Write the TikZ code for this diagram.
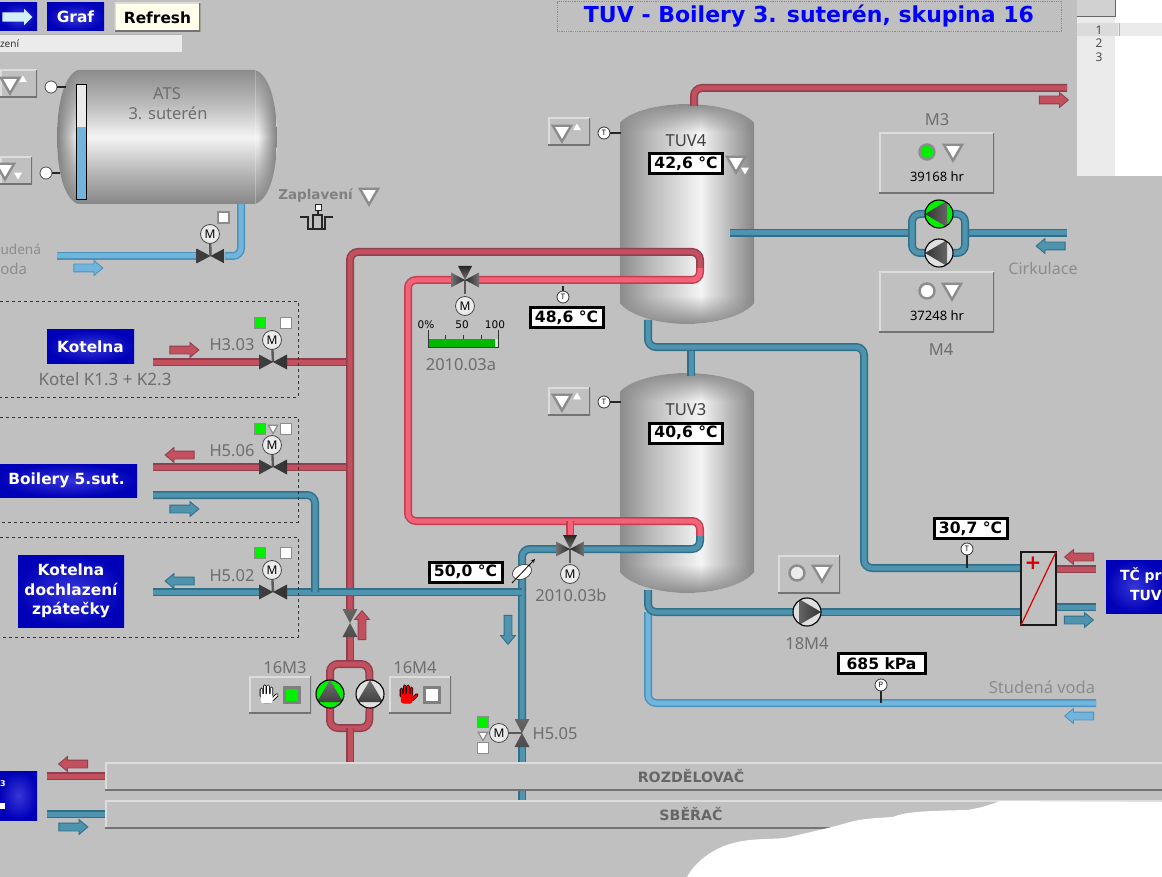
\documentclass[tikz,border=0pt]{standalone}
\usepackage{fontspec}
\setmainfont{Noto Sans}
\newfontfamily\verdfont{DejaVu Sans}
\usetikzlibrary{shapes.geometric,shapes.arrows,fadings}
\definecolor{bggrey}{HTML}{C0C0C0}
\definecolor{txtgrey}{HTML}{6E6E6E}
\definecolor{txtpale}{HTML}{8C8C8C}
\definecolor{redfill}{HTML}{C2505F}
\definecolor{rededge}{HTML}{8E3F50}
\definecolor{hotfill}{HTML}{F4627A}
\definecolor{hotedge}{HTML}{C23F50}
\definecolor{bluefill}{HTML}{4F93AE}
\definecolor{blueedge}{HTML}{2F6F88}
\definecolor{lightfill}{HTML}{72B4DC}
\definecolor{lightedge}{HTML}{4A94BC}
\definecolor{tkdark}{HTML}{8C8C8C}
\definecolor{tkmid}{HTML}{BCBCBC}
\definecolor{tklight}{HTML}{F4F4F4}
\definecolor{tkend}{HTML}{868686}
\definecolor{lampgreen}{HTML}{00F000}
\pgfdeclarelayer{bg}
\pgfdeclarelayer{pipes}
\pgfsetlayers{bg,pipes,main}
\pgfdeclarehorizontalshading{tuvshade}{100bp}{color(0bp)=(tkdark); color(25bp)=(tkdark); color(37bp)=(tkmid); color(55bp)=(tklight); color(75bp)=(tkend); color(100bp)=(tkend)}
\pgfdeclareverticalshading{atsshade}{100bp}{color(0bp)=(tkend); color(25bp)=(tkend); color(38bp)=(tkmid); color(50bp)=(tklight); color(62bp)=(tkmid); color(75bp)=(tkdark); color(100bp)=(tkdark)}
\tikzfading[name=fadeoutdown,top color=transparent!0,bottom color=transparent!100]
\tikzfading[name=fadeoutup,bottom color=transparent!0,top color=transparent!100]
\tikzfading[name=fadeoutright,left color=transparent!0,right color=transparent!100]
\tikzfading[name=fadeoutleft,right color=transparent!0,left color=transparent!100]
\newcommand{\tuvpath}{(620,123) .. controls (630,111) and (660,104) .. (687,104) .. controls (714,104) and (744,111) .. (754,123) -- (754,303) .. controls (744,316) and (714,324) .. (687,324) .. controls (660,324) and (630,316) .. (620,303) -- cycle}
\newcommand{\atspath}{(78,70) -- (255,70) .. controls (270,75) and (277,105) .. (277,137) .. controls (277,170) and (270,199) .. (255,204) -- (78,204) .. controls (64,199) and (57,170) .. (57,137) .. controls (57,105) and (64,75) .. (78,70) -- cycle}
\tikzset{
  basenode/.style={inner sep=0pt,outer sep=0pt},
  lbl/.style={basenode,text=txtgrey,font=\fontsize{16.5}{18}\selectfont,align=center,yshift=-.8pt},
  palelbl/.style={lbl,text=txtpale},
  pipered/.style={line width=1.5pt,draw=rededge,double=redfill,double distance=5pt,rounded corners=8pt},
  pipehot/.style={line width=1.5pt,draw=hotedge,double=hotfill,double distance=5pt,rounded corners=8pt},
  pipeblue/.style={line width=1.5pt,draw=blueedge,double=bluefill,double distance=5pt,rounded corners=8pt},
  pipelight/.style={line width=1.5pt,draw=lightedge,double=lightfill,double distance=5pt,rounded corners=8pt},
  stem/.style={line width=2.4pt,draw=black!65},
  wire/.style={line width=1.2pt,draw=black!85},
  panel/.style 2 args={basenode,rectangle,minimum width=#1,minimum height=#2,fill=bggrey,
    path picture={
      \draw[line width=3pt,white!45!bggrey] (path picture bounding box.south west) -- (path picture bounding box.north west) -- (path picture bounding box.north east);
      \draw[line width=3pt,black!55] (path picture bounding box.south west) -- (path picture bounding box.south east) -- (path picture bounding box.north east);}},
  bluebtn/.style 2 args={basenode,rectangle,minimum width=#1,minimum height=#2,inner color=blue!75!white!85!black,outer color=blue!72!black,text=white,align=center,
    font=\verdfont\bfseries\fontsize{15.4}{20}\selectfont},
  valuebox/.style={basenode,rectangle,draw=black,line width=3pt,fill=white,minimum width=#1,minimum height=20,
    font=\verdfont\bfseries\fontsize{15.6}{17}\selectfont},
  motor/.style={basenode,circle,minimum size=19,draw=black!70,line width=.8pt,fill=black!8,font=\fontsize{12}{12}\selectfont},
  sensor/.style={basenode,circle,minimum size=12,draw=black!80,line width=.8pt,fill=white,font=\fontsize{7.5}{8}\selectfont},
  ball/.style={basenode,circle,minimum size=12,draw=black!70,line width=.8pt,fill=white},
  lamp/.style={basenode,rectangle,minimum size=11,draw=black!45,line width=1.6pt,fill=#1},
  biglamp/.style={basenode,rectangle,minimum size=15,draw=black!50,line width=3pt,fill=#1},
  roundlamp/.style={basenode,circle,minimum size=15,draw=black!45,line width=2.4pt,fill=#1},
  alarmtri/.style={basenode,regular polygon,regular polygon sides=3,shape border rotate=180,minimum size=21,draw=black!45,line width=2.4pt,fill=white},
  alarmmini/.style={basenode,regular polygon,regular polygon sides=3,shape border rotate=180,minimum size=11,draw=black!45,line width=1.2pt,fill=white},
  markup/.style={basenode,regular polygon,regular polygon sides=3,minimum size=9,fill=white},
  markdn/.style={basenode,regular polygon,regular polygon sides=3,shape border rotate=180,minimum size=9,fill=white},
  flowarrow/.style n args={3}{outer sep=0pt,inner xsep=0pt,inner ysep=3.5pt,single arrow,minimum height=29,single arrow head extend=3.5pt,single arrow tip angle=80,
    shape border rotate=#1,fill=#2,draw=#3,line width=.9pt},
  flowarrowv/.style n args={3}{flowarrow={#1}{#2}{#3},inner xsep=3.5pt,inner ysep=0pt},
  valveh/.style={basenode,rectangle,minimum width=28,minimum height=15,path picture={
      \shade[left color=black!75,middle color=black!60,right color=black!80] (path picture bounding box.north west) -- (path picture bounding box.south east) -- (path picture bounding box.north east) -- (path picture bounding box.south west) -- cycle;}},
  valvev/.style={basenode,rectangle,minimum width=15,minimum height=28,path picture={
      \shade[top color=black!60,middle color=black!80,bottom color=black!70] (path picture bounding box.north west) -- (path picture bounding box.south east) -- (path picture bounding box.south west) -- (path picture bounding box.north east) -- cycle;}},
  valvethree/.style={basenode,rectangle,minimum size=28,path picture={
      \draw[stem] (path picture bounding box.center) -- (path picture bounding box.south);
      \shade[top color=black!85,bottom color=black!55] (path picture bounding box.north west) ++(7,0) -- ++(14,0) -- (path picture bounding box.center) -- cycle;
      \shade[left color=black!55,right color=black!85] (path picture bounding box.west) ++(0,-7.5) -- ++(0,15) -- (path picture bounding box.center) -- cycle;
      \shade[left color=black!85,right color=black!55] (path picture bounding box.east) ++(0,-7.5) -- ++(0,15) -- (path picture bounding box.center) -- cycle;}},
  pumpbase/.style={basenode,circle,minimum size=28,draw=black,line width=1.1pt,fill=#1},
  pumpup/.style={pumpbase=#1,path picture={
      \shade[top color=black!55,bottom color=black!80,shift={(path picture bounding box.center)}] (0,-14) -- (13,8) -- (-13,8) -- cycle;}},
  pumpleft/.style={pumpbase=#1,path picture={
      \shade[left color=black!80,right color=black!55,shift={(path picture bounding box.center)}] (-14,0) -- (8,-13) -- (8,13) -- cycle;}},
  pumpright/.style={pumpbase=#1,path picture={
      \shade[left color=black!55,right color=black!80,shift={(path picture bounding box.center)}] (14,0) -- (-8,-13) -- (-8,13) -- cycle;}},
  pics/handicon/.style={code={
      \draw[black,line width=3.6pt,line cap=round,line join=round] (-5,1) -- (-5,-5) (-2,-1) -- (-2,-8) (1,-1) -- (1,-8) (4,0) -- (4,-6) (5,4) -- (9,0) (-3,1) -- (-3,6) (3,1) -- (3,6) (-3,6) -- (3,6);
      \draw[#1,line width=1.8pt,line cap=round,line join=round] (-5,1) -- (-5,-5) (-2,-1) -- (-2,-8) (1,-1) -- (1,-8) (4,0) -- (4,-6) (5,4) -- (9,0);
      \fill[#1,rounded corners=2pt] (-5.5,-1) rectangle (5,7.5);}},
}
\begin{document}
\begin{tikzpicture}[x=1pt,y=-1pt,>=stealth]
  \useasboundingbox (0,0) rectangle (1162,877);
  \begin{pgfonlayer}{bg}
    \fill[bggrey] (0,0) rectangle (1162,877);
    \shade[shading=atsshade] \atspath;
    \begin{scope}
      \clip \atspath;
      \fill[black!50,path fading=fadeoutright] (57,70) rectangle (78,204);
      \fill[black!50,path fading=fadeoutleft] (258,70) rectangle (277,204);
    \end{scope}
    \draw[white,opacity=.25,line width=.5pt] (255,70) -- (255,204);
    \shade[shading=tuvshade] \tuvpath;
    \begin{scope}
      \clip \tuvpath;
      \fill[black!45,path fading=fadeoutdown] (620,104) rectangle (754,132);
      \fill[black!45,path fading=fadeoutup] (620,296) rectangle (754,324);
    \end{scope}
    \begin{scope}[yshift=-269pt]
      \shade[shading=tuvshade] \tuvpath;
      \begin{scope}
        \clip \tuvpath;
        \fill[black!45,path fading=fadeoutdown] (620,104) rectangle (754,132);
        \fill[black!45,path fading=fadeoutup] (620,296) rectangle (754,324);
      \end{scope}
    \end{scope}
  \end{pgfonlayer}

  \node[bluebtn={37}{28}] (btnArrow) at (18.5,17){};
  \node[outer sep=0pt,inner xsep=0pt,inner ysep=4.5pt,single arrow,minimum height=30,single arrow head extend=3.5pt,fill=cyan!18!white] (arrowTop) at (15,17){};
  \node[bluebtn={57}{28}] (btnGraf) at (75.5,17){Graf};
  \node[panel={86}{29},fill=yellow!8!white,font=\verdfont\bfseries\fontsize{15.4}{16}\selectfont] (btnRefresh) at (157.5,17.5){Refresh};
  \node[basenode,rectangle,minimum width=182,minimum height=17,fill=blue!5!black!8] (barAlarm) at (91,43.5){};
  \draw[black!30,line width=1pt] (barAlarm.north west) -- (barAlarm.north east);
  \node[basenode,anchor=west,font=\fontsize{10}{11}\selectfont,text=black!80] (txtBar) at (0,44){zení};
  \node[basenode,rectangle,minimum width=504,minimum height=30,draw=black!45,densely dotted,line width=.8pt,text=blue,font=\verdfont\bfseries\fontsize{22}{24}\selectfont] (title) at (809,16){\raisebox{-1.5pt}{TUV - Boilery 3. suterén, skupina 16}};

  \node[panel={37}{28}] (pAtsHi) at (18.5,84){};
  \node[alarmtri] (aAtsHi) at (10,83){};
  \node[markup] (mAtsHi) at (23,80){};
  \node[panel={32}{28}] (pAtsLo) at (16,171){};
  \node[alarmtri] (aAtsLo) at (5,169){};
  \node[markdn] (mAtsLo) at (18,175){};
  \node[ball] (sAtsHi) at (51,87){};
  \node[ball] (sAtsLo) at (46,173){};
  \coordinate (eAtsHi) at (66,87);
  \coordinate (eAtsLo) at (60,173);
  \draw[wire] (sAtsHi) -- (eAtsHi);
  \draw[wire] (sAtsLo) -- (eAtsLo);
  \fill[black!8] (76,84) rectangle (86,127);
  \fill[lightfill] (76,127) rectangle (86,200);
  \draw[black,line width=1pt] (76.5,84.5) rectangle (86,200);
  \node[lbl] (txtAts) at (167,93){ATS};
  \node[lbl] (txtAts2) at (168,112){3. suterén};
  \node[lamp=white] (lAts) at (223.5,217.5){};
  \node[motor] (mAts) at (210,234){M};
  \node[valveh] (vAts) at (210.5,256){};
  \node[palelbl,anchor=east,font=\fontsize{13.6}{18}\selectfont] (txtCold1) at (41,249){udená};
  \node[palelbl,anchor=east,font=\fontsize{15}{18}\selectfont] (txtCold2) at (27,268){oda};
  \node[flowarrow={0}{lightfill}{lightedge}] (arCold) at (86,268){};

  \node[lbl,font=\verdfont\bfseries\fontsize{13.5}{16}\selectfont,text=black!50] (txtFlood) at (315.5,195){Zaplavení};
  \node[alarmtri] (aFlood) at (369,194){};
  \node[basenode,rectangle,minimum size=6,draw=black!85,line width=1pt,fill=white] (sFlood) at (318,208){};
  \draw[wire] (300,217) -- (308,217) -- (308,229) -- (325,229) -- (325,217) -- (333,217);
  \draw[wire] (313,229) -- (313,215) -- (322,215) -- (322,229);
  \draw[wire] (sFlood) -- (318,215);

  \draw[dashed,line width=.7pt,black!80] (0,301) -- (298,301) -- (298,397) -- (0,397);
  \draw[dashed,line width=.7pt,black!80] (0,417) -- (298,417) -- (298,522) -- (0,522);
  \draw[dashed,line width=.7pt,black!80] (0,537) -- (298,537) -- (298,637) -- (0,637);

  \node[bluebtn={87}{33}] (btnKot) at (90.5,346.5){Kotelna};
  \node[lbl,font=\fontsize{17}{18}\selectfont] (txtKot) at (105,378){Kotel K1.3 + K2.3};
  \node[flowarrow={0}{redfill}{rededge}] (arKot) at (182,350){};
  \node[lbl] (txtH303) at (232,344){H3.03};
  \node[lamp=lampgreen] (lH303a) at (260,323){};
  \node[lamp=white] (lH303b) at (286,323){};
  \node[motor] (mH303) at (272,340){M};
  \node[valveh] (vH303) at (273,362){};

  \node[bluebtn={137}{33}] (btnBoil) at (68.5,480.5){\hspace*{-4pt}Boilery 5.sut.};
  \node[flowarrow={180}{redfill}{rededge}] (arBoil) at (182,455){};
  \node[flowarrow={0}{bluefill}{blueedge}] (arBoil2) at (182,509){};
  \node[lbl] (txtH506) at (232,450){H5.06};
  \node[lamp=lampgreen] (lH506a) at (260,429){};
  \node[alarmmini] (aH506) at (273,428){};
  \node[lamp=white] (lH506b) at (286,429){};
  \node[motor] (mH506) at (272,445){M};
  \node[valveh] (vH506) at (273,467){};

  \node[bluebtn={106}{72},font=\verdfont\bfseries\fontsize{15.4}{19.5}\selectfont] (btnDoch) at (71,591){Kotelna\\dochlazení\\zpátečky};
  \node[flowarrow={180}{bluefill}{blueedge}] (arDoch) at (182,581){};
  \node[lbl] (txtH502) at (232,575){H5.02};
  \node[lamp=lampgreen] (lH502a) at (260,553){};
  \node[lamp=white] (lH502b) at (286,553){};
  \node[motor] (mH502) at (272,570){M};
  \node[valveh] (vH502) at (273,592){};

  \node[valvev] (v16) at (350,623){};
  \node[flowarrowv={90}{redfill}{rededge}] (ar16) at (362,627.5){};
  \node[lbl] (txt16M3) at (285,667){16M3};
  \node[lbl] (txt16M4) at (415,667){16M4};
  \node[panel={62}{37}] (p16M3) at (280,694.5){};
  \node[panel={62}{37}] (p16M4) at (420,694.5){};
  \pic[scale=1.1] (h16M3) at (267,695) {handicon=white};
  \pic[scale=1.1] (h16M4) at (407,695) {handicon=red};
  \node[biglamp=lampgreen] (l16M3) at (292,695){};
  \node[biglamp=white] (l16M4) at (432,695){};
  \node[pumpup=lampgreen] (pp16M3) at (330,694){};
  \node[pumpup=black!12] (pp16M4) at (370,694){};

  \node[valuebox=73] (val50) at (465.5,572){50,0 °C};
  \node[basenode,ellipse,rotate=25,minimum width=20,minimum height=14,fill=white,draw=black!70,line width=.8pt] (sFlow) at (522,572){};
  \coordinate (flowA) at (512,583);
  \coordinate (flowB) at (535,559);
  \draw[->,line width=.8pt] (flowA) -- (flowB);
  \node[flowarrowv={270}{bluefill}{blueedge}] (arDown) at (508,627.5){};
  \node[valvev] (vH505) at (522,733){};
  \node[motor] (mH505) at (499,733){M};
  \node[lamp=lampgreen] (lH505a) at (483,722){};
  \node[alarmmini] (aH505) at (483,735){};
  \node[lamp=white] (lH505b) at (483,748){};
  \node[lbl] (txtH505) at (555,733){H5.05};

  \node[valvethree] (v03a) at (465,280){};
  \node[motor] (m03a) at (465,306){M};
  \node[basenode,font=\verdfont\fontsize{10.5}{11}\selectfont] (t0) at (426,325){0\%};
  \node[basenode,font=\verdfont\fontsize{10.5}{11}\selectfont] (t50) at (462,325){50};
  \node[basenode,font=\verdfont\fontsize{10.5}{11}\selectfont] (t100) at (495,325){100};
  \fill[green!72!black] (428,339) rectangle (495,347);
  \fill[black!12] (495,339) rectangle (498,347);
  \draw[black!80,line width=.8pt] (428,330) -- (428,347) -- (498,347) -- (498,330) (445,335) -- (445,339) (463,335) -- (463,339) (481,335) -- (481,339);
  \node[lbl] (txt03a) at (461,364){2010.03a};
  \node[sensor] (sT486) at (563,297){T};
  \coordinate (eT486) at (563,286);
  \draw[wire] (sT486) -- (eT486);
  \node[valuebox=73] (val486) at (566.5,318){48,6 °C};
  \node[valvethree] (v03b) at (570,549){};
  \node[motor] (m03b) at (570,574){M};
  \node[lbl] (txt03b) at (571,595){2010.03b};

  \node[panel={42}{28}] (pT4) at (569,132){};
  \node[alarmtri] (aT4) at (562,131){};
  \node[markup] (mT4) at (577,128){};
  \node[sensor] (sT4) at (604,133){T};
  \coordinate (eT4) at (621,133);
  \draw[wire] (sT4) -- (eT4);
  \node[basenode,text=black!75,font=\fontsize{16.5}{18}\selectfont] (txtT4) at (686,141){TUV4};
  \node[valuebox=73] (val426) at (686,163.5){42,6 °C};
  \node[alarmtri] (aT4b) at (736,162){};
  \node[markdn] (mT4b) at (745,170){};

  \node[panel={42}{28}] (pT3) at (569,401){};
  \node[alarmtri] (aT3) at (562,400){};
  \node[markup] (mT3) at (577,397){};
  \node[sensor] (sT3) at (604,402){T};
  \coordinate (eT3) at (621,402);
  \draw[wire] (sT3) -- (eT3);
  \node[basenode,text=black!75,font=\fontsize{16.5}{18}\selectfont] (txtT3) at (686,410){TUV3};
  \node[valuebox=73] (val406) at (686,433){40,6 °C};

  \node[lbl] (txtM3) at (937,119){M3};
  \node[panel={115}{61}] (pM3) at (936.5,163.5){};
  \node[roundlamp=lampgreen] (lM3) at (927,152){};
  \node[alarmtri] (aM3) at (953,150){};
  \node[basenode,font=\fontsize{13}{14}\selectfont] (hM3) at (937,177){39168 hr};
  \node[pumpleft=lampgreen] (ppM3) at (939,214){};
  \node[pumpleft=black!12] (ppM4) at (939,253){};
  \node[panel={115}{61}] (pM4) at (936.5,302.5){};
  \node[roundlamp=white] (lM4) at (927,291){};
  \node[alarmtri] (aM4) at (952,289){};
  \node[basenode,font=\fontsize{13}{14}\selectfont] (hM4) at (937,316){37248 hr};
  \node[lbl] (txtM4) at (941,349){M4};
  \node[flowarrow={180}{bluefill}{blueedge}] (arCirc) at (1053,246){};
  \node[palelbl,font=\fontsize{16}{18}\selectfont] (txtCirc) at (1043,268){Cirkulace};
  \node[flowarrow={0}{redfill}{rededge}] (arTop) at (1051.5,100){};

  \node[panel={62}{38}] (p18) at (809,574){};
  \node[roundlamp=bggrey!30!white] (l18) at (797,573){};
  \node[alarmtri] (a18) at (822,571){};
  \node[pumpright=black!12] (pp18) at (807,612){};
  \node[lbl] (txt18) at (807,643){18M4};
  \node[valuebox=73] (val307) at (970.5,528.5){30,7 °C};
  \node[sensor] (sT307) at (967,549){T};
  \node[valuebox=87] (val685) at (881.5,663.5){685 kPa};
  \node[sensor] (sP) at (881,685){P};
  \node[palelbl] (txtCold) at (1042,686){Studená voda};
  \node[flowarrow={180}{lightfill}{lightedge}] (arColdR) at (1081.5,716){};
  \node[basenode,rectangle,minimum width=35,minimum height=73,draw=black!90,line width=2pt,fill=bggrey] (hx) at (1038.5,588.5){};
  \draw[red!85!black,line width=1.2pt] (hx.south west) -- (hx.north east);
  \node[basenode,text=red!85!black,font=\verdfont\bfseries\fontsize{20}{20}\selectfont] (hxPlus) at (1033,563){+};
  \node[flowarrow={180}{redfill}{rededge}] (arHxR) at (1081.5,557){};
  \node[flowarrow={0}{bluefill}{blueedge}] (arHxB) at (1076.5,620){};
  \node[bluebtn={56}{53}] (btnTc) at (1134,586.5){};
  \node[basenode,anchor=west,text=white,font=\verdfont\bfseries\fontsize{14}{16}\selectfont] (txtTc1) at (1120,575){TČ pr};
  \node[basenode,anchor=west,text=white,font=\verdfont\bfseries\fontsize{14}{16}\selectfont] (txtTc2) at (1130,595){TUV};

  \node[panel={1062}{28}] (busRoz) at (636,776){};
  \node[basenode,font=\verdfont\bfseries\fontsize{14.2}{16}\selectfont,text=black!60] (txtRoz) at (691,776){ROZDĚLOVAČ};
  \node[panel={1062}{28}] (busSber) at (636,814){};
  \node[basenode,font=\verdfont\bfseries\fontsize{14.2}{16}\selectfont,text=black!60] (txtSber) at (691,814){SBĚŘAČ};
  \node[bluebtn={37}{49}] (btnLow) at (18.5,795.5){};
  \node[basenode,text=white,font=\verdfont\bfseries\fontsize{8}{9}\selectfont] (txtLow1) at (3,784){3};
  \node[basenode,rectangle,minimum width=5,minimum height=6,fill=white] (txtLow2) at (2.5,806){};
  \node[flowarrow={180}{redfill}{rededge}] (arLowR) at (75.5,764){};
  \node[flowarrow={0}{bluefill}{blueedge}] (arLowB) at (71,827){};

  \coordinate (cAts1) at (57,256);
  \coordinate (cAts2) at (241,256);
  \coordinate (cAts3) at (241,204);
  \coordinate (cH303) at (153,362);
  \coordinate (jH303) at (350,362);
  \coordinate (cH506) at (153,467);
  \coordinate (jH506) at (350,467);
  \coordinate (cMain1) at (350,252);
  \coordinate (cMain2) at (700,252);
  \coordinate (cMain3) at (700,268);
  \coordinate (cHot1) at (700,280);
  \coordinate (cHot2) at (408,280);
  \coordinate (cHot3) at (408,521);
  \coordinate (cHot4) at (700,521);
  \coordinate (cHot5) at (700,536);
  \coordinate (cRet1) at (700,549);
  \coordinate (jHot) at (570,521);
  \coordinate (cLoop1) at (350,664);
  \coordinate (cLoop2) at (330,664);
  \coordinate (cLoop3) at (369,664);
  \coordinate (cLoop4) at (330,728);
  \coordinate (cLoop5) at (369,728);
  \coordinate (cLoop6) at (350,728);
  \coordinate (cRoz) at (350,762);
  \coordinate (cBl1) at (153,592);
  \coordinate (jBl) at (315,592);
  \coordinate (cBl2) at (315,495);
  \coordinate (cBl3) at (153,495);
  \coordinate (cBl4) at (522,592);
  \coordinate (cBl5) at (522,549);
  \coordinate (cSber) at (522,800);
  \coordinate (cLowR) at (47,776);
  \coordinate (cLowB) at (47,814);
  \coordinate (cTop1) at (694,106);
  \coordinate (cTop2) at (694,88);
  \coordinate (cTop3) at (1067,88);
  \coordinate (cCirc1) at (730,233);
  \coordinate (jCirc1) at (912,233);
  \coordinate (jCirc2) at (965,233);
  \coordinate (cCirc2) at (1067,233);
  \coordinate (cLp1) at (912,214);
  \coordinate (cLp2) at (912,253);
  \coordinate (cLp3) at (965,214);
  \coordinate (cLp4) at (965,253);
  \coordinate (cT4out) at (648,320);
  \coordinate (cT4a) at (648,347);
  \coordinate (jT4) at (691,347);
  \coordinate (cT3in) at (691,376);
  \coordinate (cT4b) at (864,347);
  \coordinate (cT4c) at (864,568);
  \coordinate (cT3out) at (648,590);
  \coordinate (cT3a) at (648,612);
  \coordinate (cCold1) at (648,703);
  \coordinate (cCold2) at (1096,703);
  \coordinate (cHxR) at (1096,569);
  \coordinate (cHxB) at (1096,607);

  \begin{pgfonlayer}{pipes}
    \draw[pipelight] (cAts1) -- (vAts);
    \draw[pipelight] (vAts) -- (cAts2) -- (cAts3);
    \draw[stem] (vAts.center) -- (mAts);
    \draw[stem] (vH303.center) -- (mH303);
    \draw[stem] (vH506.center) -- (mH506);
    \draw[stem] (vH502.center) -- (mH502);
    \draw[stem] (vH505.center) -- (mH505);
    \draw[pipered] (cTop1) -- (cTop2) -- (cTop3);
    \draw[pipered] (cH303) -- (vH303);
    \draw[pipered] (vH303) -- (jH303);
    \draw[pipered] (cH506) -- (vH506);
    \draw[pipered] (vH506) -- (jH506);
    \draw[pipered] (cMain3) -- (cMain2) -- (cMain1) -- (v16);
    \draw[pipered] (v16) -- (cLoop1);
    \draw[pipered] (pp16M3) -- (cLoop2) -- (cLoop3) -- (pp16M4);
    \draw[pipered] (pp16M3) -- (cLoop4) -- (cLoop5) -- (pp16M4);
    \draw[pipered] (cLoop6) -- (cRoz);
    \draw[pipered] (cLowR) -- (busRoz);
    \draw[pipehot] (v03a) -- (cHot1) -- (cMain3);
    \draw[pipehot] (v03a) -- (cHot2) -- (cHot3) -- (cHot4) -- (cHot5);
    \draw[pipehot] (jHot) -- (v03b);
    \draw[pipeblue] (cHot5) -- (cRet1) -- (v03b);
    \draw[pipeblue] (v03b) -- (cBl5) -- (cBl4) -- (vH505);
    \draw[pipeblue] (vH505) -- (cSber);
    \draw[pipeblue] (cBl1) -- (vH502);
    \draw[pipeblue] (vH502) -- (cBl4);
    \draw[pipeblue] (jBl) -- (cBl2) -- (cBl3);
    \draw[pipeblue] (cLowB) -- (busSber);
    \draw[pipeblue] (cCirc1) -- (jCirc1);
    \draw[pipeblue] (jCirc2) -- (cCirc2);
    \draw[pipeblue] (ppM3) -- (cLp1) -- (cLp2) -- (ppM4);
    \draw[pipeblue] (ppM3) -- (cLp3) -- (cLp4) -- (ppM4);
    \draw[pipeblue] (jT4) -- (cT3in);
    \draw[pipeblue] (cT4out) -- (cT4a) -- (cT4b) -- (cT4c) -- (cT4c -| hx.west);
    \draw[pipelight] (cT3a) -- (cCold1) -- (cCold2);
    \draw[pipeblue] (cT3out) -- (cT3a) -- (pp18);
    \draw[pipeblue] (pp18) -- (cT3a -| hx.west);
    \draw[pipered] (cHxR -| hx.east) -- (cHxR);
    \draw[pipeblue] (cHxB -| hx.east) -- (cHxB);
    \draw[wire] (sT307) -- (sT307 |- cT4c);
    \draw[wire] (sP) -- (sP |- cCold2);
  \end{pgfonlayer}

  \fill[white] (1077,0) rectangle (1162,176);
  \fill[black!8] (1077,0) rectangle (1115,176);
  \fill[black!8] (1115,23) rectangle (1162,36);
  \fill[black!14] (1077,23) rectangle (1118,36);
  \fill[black!18] (1077,0) rectangle (1115,17);
  \draw[black!60,line width=.8pt] (1077,16.5) -- (1115,16.5) -- (1115,0);
  \draw[black!30,line width=1pt] (1119.5,23) -- (1119.5,36);
  \node[basenode,text=black!70,font=\fontsize{12}{13}\selectfont] (row1) at (1099,30){1};
  \node[basenode,text=black!70,font=\fontsize{12}{13}\selectfont] (row2) at (1099,43){2};
  \node[basenode,text=black!70,font=\fontsize{12}{13}\selectfont] (row3) at (1099,57){3};
  \fill[white] (687,877) .. controls (695,862) and (715,845) .. (743,841) .. controls (760,838) and (775,840) .. (790,837) .. controls (810,832) and (830,828) .. (850,822) .. controls (865,818) and (880,818) .. (893,817) .. controls (905,812) and (920,811) .. (967,810) .. controls (980,808) and (990,805) .. (1000,801) -- (1162,802) -- (1162,877) -- cycle;
\end{tikzpicture}
\end{document}
